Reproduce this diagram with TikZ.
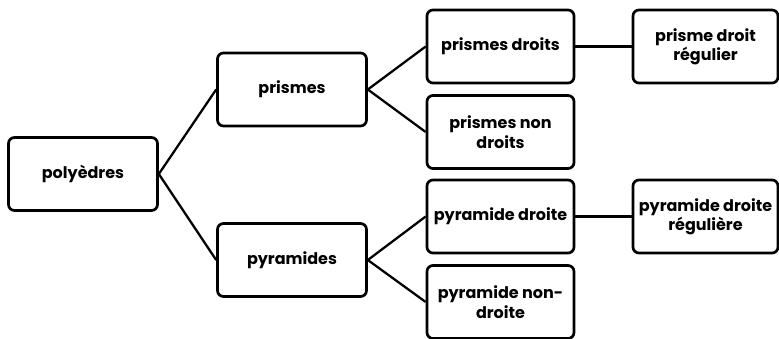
\documentclass[tikz,border=0pt]{standalone}
\usepackage{fontspec}
\setmainfont{Poppins}
\begin{document}
\begin{tikzpicture}[x=0.75pt,y=-0.75pt,
  box/.style={draw=black,line width=2pt,rounded corners=4.5pt,fill=white,
    minimum width=#1*0.75pt,minimum height=73*0.75pt,inner sep=1pt,align=center,
    font=\fontsize{12}{14.5}\selectfont\bfseries},
  box/.default=149,
  link/.style={draw=black,line width=1.7pt}]
\useasboundingbox (0,0) rectangle (779,339);
\node[box] (poly) at (83,174) {polyèdres};
\node[box] (pri) at (292,89.5) {prismes};
\node[box] (pyr) at (292,260) {pyramides};
\node[box=147] (prd) at (500.5,46.5) {prismes droits};
\node[box=147] (prnd) at (500.5,132) {prismes non\\droits};
\node[box=147] (pyd) at (500.5,216.5) {pyramide droite};
\node[box=147] (pynd) at (500.5,302) {pyramide non-\\droite};
\node[box=145] (prdr) at (705.5,46.5) {prisme droit\\régulier};
\node[box=145] (pydr) at (705.5,216.5) {pyramide droite\\régulière};
\draw[link] (poly.east) -- (pri.west);
\draw[link] (poly.east) -- (pyr.west);
\draw[link] (pri.east) -- (prd.west);
\draw[link] (pri.east) -- (prnd.west);
\draw[link] (pyr.east) -- (pyd.west);
\draw[link] (pyr.east) -- (pynd.west);
\draw[link] (prd.east) -- (prdr.west);
\draw[link] (pyd.east) -- (pydr.west);
\end{tikzpicture}
\end{document}
